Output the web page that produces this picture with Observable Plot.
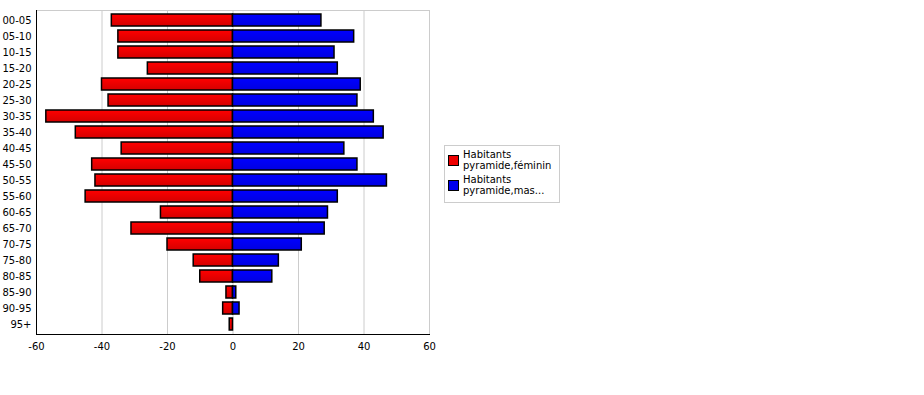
<!DOCTYPE html>
<html>
<head>
<meta charset="utf-8">
<script src="https://cdn.jsdelivr.net/npm/d3@7"></script>
<script src="https://cdn.jsdelivr.net/npm/@observablehq/plot@0.6"></script>
<style>
  html, body { margin: 0; padding: 0; background: #fff; }
  #wrap { position: relative; width: 924px; height: 395px; font-family: "DejaVu Sans", Verdana, sans-serif; }
  #legend { position: absolute; left: 444px; top: 145px; width: 114px; height: 56px; border: 1px solid #cccccc; background: #fff; font-size: 10px; line-height: 11px; color: #000; }
  .item { position: absolute; left: 3px; }
  .sw { position: absolute; left: 0; top: 6px; width: 9px; height: 9px; border: 1px solid #000; }
  .lbl { position: absolute; left: 15px; top: 0; white-space: nowrap; }
</style>
</head>
<body>
<div id="wrap"><div id="legend"></div></div>
<script>
const categories = ["00-05","05-10","10-15","15-20","20-25","25-30","30-35","35-40","40-45","45-50","50-55","55-60","60-65","65-70","70-75","75-80","80-85","85-90","90-95","95+"];
const feminin = [-37,-35,-35,-26,-40,-38,-57,-48,-34,-43,-42,-45,-22,-31,-20,-12,-10,-2,-3,-1];
const masculin = [27,37,31,32,39,38,43,46,34,38,47,32,29,28,21,14,12,1,2,0];
const xTicks = [-60,-40,-20,0,20,40,60];
const gridTicks = [-40,-20,0,20,40];
const seriesNames = ["Habitants pyramide,féminin", "Habitants pyramide,masculin"];
const seriesLegend = [["Habitants", "pyramide,féminin"], ["Habitants", "pyramide,mas..."]];

const fem = categories.map((c, i) => ({cat: c, v: feminin[i]}));
const mas = categories.map((c, i) => ({cat: c, v: masculin[i]}));

const plot = Plot.plot({
  width: 924,
  height: 395,
  marginLeft: 36,
  marginTop: 10,
  marginBottom: 61,
  marginRight: 495,
  style: {fontFamily: "DejaVu Sans, Verdana, sans-serif", fontSize: "10px", background: "transparent"},
  x: {domain: [-60, 60], ticks: xTicks, label: null},
  y: {domain: categories, padding: 0.25, label: null},
  marks: [
    Plot.gridX(gridTicks, {stroke: "#cccccc", strokeOpacity: 1}),
    Plot.frame({stroke: "#cccccc"}),
    Plot.barX(fem, {y: "cat", x1: 0, x2: "v", fill: "url(#gradRed)", stroke: "#000", strokeWidth: 1.5}),
    Plot.barX(mas, {y: "cat", x1: 0, x2: "v", fill: "url(#gradBlue)", stroke: "#000", strokeWidth: 1.5}),
    Plot.frame({anchor: "left", stroke: "#000"}),
    Plot.frame({anchor: "bottom", stroke: "#000"}),
    Plot.axisX({ticks: xTicks, tickSize: 0, tickPadding: 8, tickFormat: d => String(d)}),
    Plot.axisY({tickSize: 0, tickPadding: 5, dy: 0.5})
  ]
});

const svg = d3.select(plot);
const defs = svg.insert("defs", ":first-child");
function grad(id, top, bottom) {
  const g = defs.append("linearGradient").attr("id", id).attr("x1", 0).attr("y1", 0).attr("x2", 0).attr("y2", 1);
  g.append("stop").attr("offset", "0%").attr("stop-color", top);
  g.append("stop").attr("offset", "100%").attr("stop-color", bottom);
}
grad("gradRed", "#ff0000", "#d40000");
grad("gradBlue", "#0000ff", "#0000e0");

const wrap = document.getElementById("wrap");
wrap.insertBefore(plot, wrap.firstChild);

const legend = d3.select("#legend");
const colors = ["#ee0000", "#0000ee"];
seriesLegend.forEach((lines, i) => {
  const it = legend.append("div").attr("class", "item").style("top", (3 + i * 25) + "px");
  it.append("div").attr("class", "sw").style("background", colors[i]);
  it.append("div").attr("class", "lbl").html(lines.join("<br>")).attr("title", seriesNames[i]);
});
</script>
</body>
</html>
